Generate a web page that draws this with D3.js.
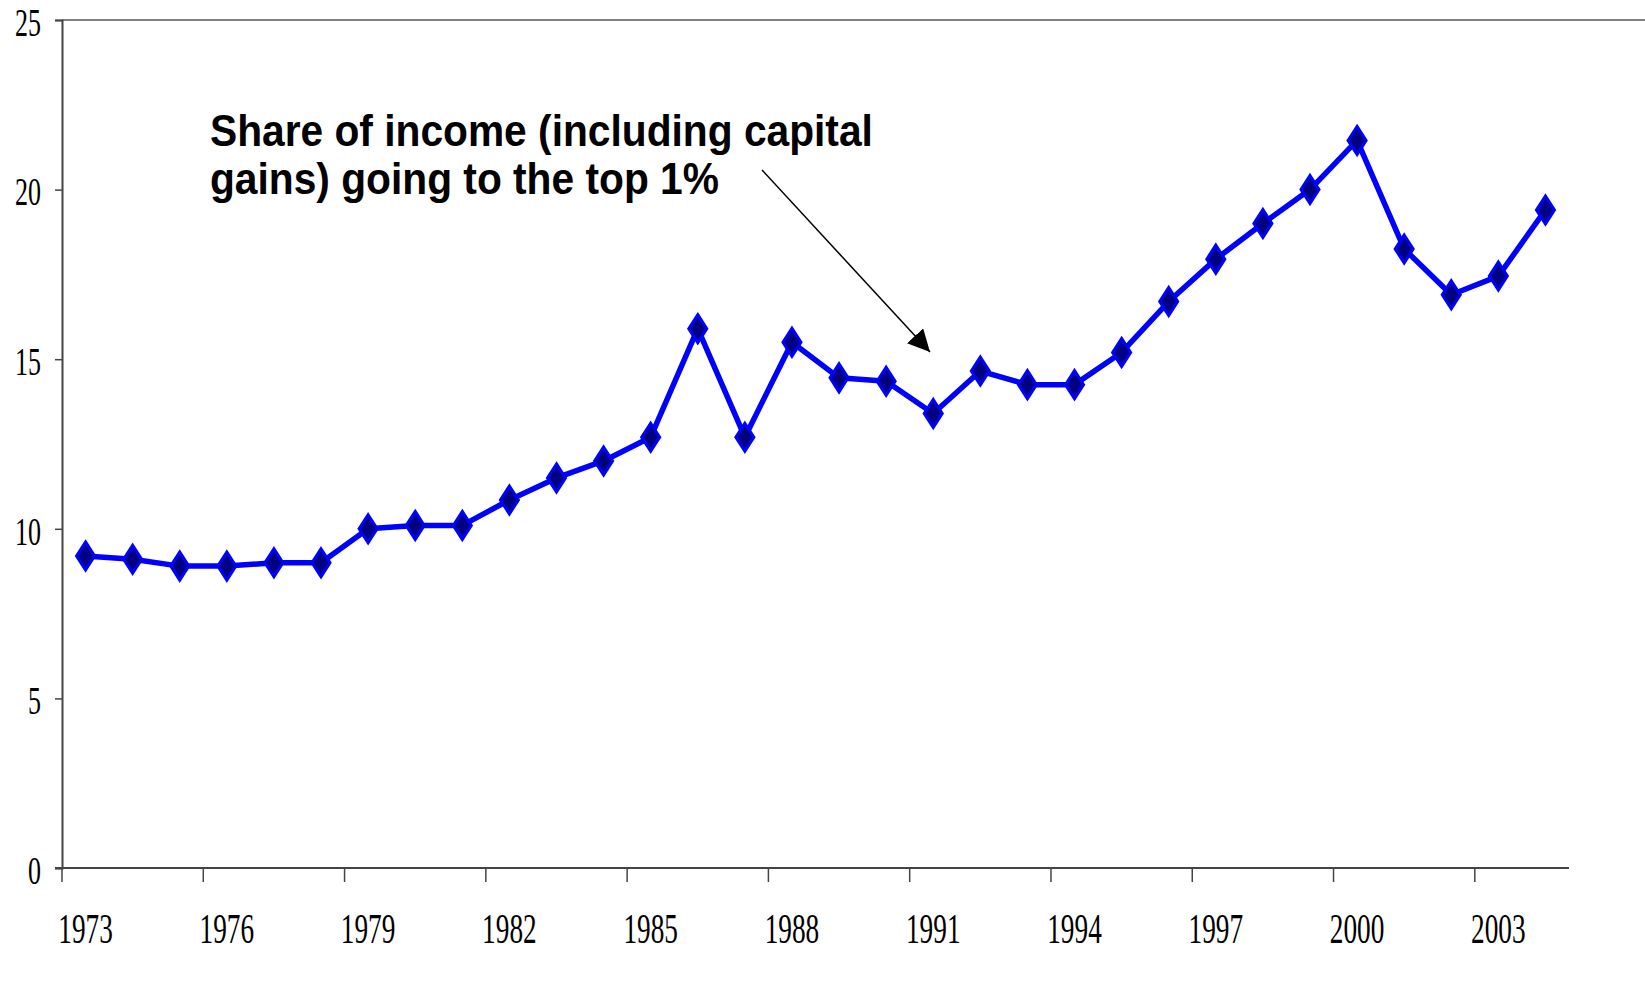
<!DOCTYPE html>
<html><head><meta charset="utf-8">
<script src="https://cdn.jsdelivr.net/npm/d3@7"></script>
<style>html,body{margin:0;padding:0;background:#fff;}svg{display:block;}</style>
</head><body>
<svg id="c" width="1645" height="996"></svg>
<script>
const years = d3.range(1973, 2005).map(String);
const shares = [9.2, 9.1, 8.9, 8.9, 9.0, 9.0, 10.0, 10.1, 10.1, 10.85, 11.5, 12.0, 12.7, 15.9, 12.7, 15.5,
  14.45, 14.35, 13.4, 14.65, 14.25, 14.25, 15.2, 16.7, 17.95, 19.0, 20.0, 21.45, 18.25, 16.9, 17.45, 19.4];
const yTicks = [0, 5, 10, 15, 20, 25];
const xLabelYears = ["1973","1976","1979","1982","1985","1988","1991","1994","1997","2000","2003"];
const annotationLines = ["Share of income (including capital", "gains) going to the top 1%"];

const svg = d3.select("#c");
const L = 62, R = 1569, T = 20, B = 868;
const x = d3.scaleBand().domain(years).range([L, R]).padding(0);
const y = d3.scaleLinear().domain([0, 25]).range([B, T]);

// top frame line
svg.append("line").attr("x1", L).attr("x2", 1645).attr("y1", T).attr("y2", T)
  .attr("stroke", "#808080").attr("stroke-width", 2);

// Y axis
const yAxis = svg.append("g").attr("transform", `translate(${L},0)`)
  .call(d3.axisLeft(y).tickValues(yTicks).tickSize(7).tickPadding(14).tickFormat(d3.format("d")));
yAxis.select(".domain").attr("stroke", "#444").attr("stroke-width", 2);
yAxis.selectAll(".tick line").attr("stroke", "#444").attr("stroke-width", 1.5);
yAxis.selectAll(".tick text").attr("font-family", "Liberation Serif").attr("font-size", 40)
  .attr("fill", "#000").attr("dy", "0.38em")
  .attr("transform", function(){ const xx = +d3.select(this).attr("x"); return `translate(${xx*0.35},0) scale(0.65,1)`; });

// X axis (ticks at boundaries every 3 years, labels at band centers)
const xg = svg.append("g").attr("transform", `translate(0,${B})`);
xg.append("line").attr("x1", L - 7).attr("x2", R).attr("stroke", "#444").attr("stroke-width", 2);
xg.selectAll("line.tk").data(xLabelYears).join("line").attr("class", "tk")
  .attr("x1", d => x(d)).attr("x2", d => x(d)).attr("y1", 0).attr("y2", 14)
  .attr("stroke", "#444").attr("stroke-width", 1.5);
xg.selectAll("text").data(xLabelYears).join("text")
  .attr("transform", d => `translate(${x(d) + x.bandwidth()/2},75) scale(0.65,1)`)
  .attr("text-anchor", "middle").attr("font-family", "Liberation Serif").attr("font-size", 42)
  .attr("fill", "#000").text(d => d);

// line
const pts = years.map((yr, i) => [x(yr) + x.bandwidth()/2, y(shares[i])]);
svg.append("path").datum(pts).attr("d", d3.line()).attr("fill", "none")
  .attr("stroke", "#0000ff").attr("stroke-width", 5.5).attr("stroke-linejoin", "round");

// diamond markers
svg.selectAll("path.mk").data(pts).join("path").attr("class", "mk")
  .attr("d", d => `M${d[0]},${d[1]-14}L${d[0]+9},${d[1]}L${d[0]},${d[1]+14}L${d[0]-9},${d[1]}Z`)
  .attr("fill", "#000080").attr("stroke", "#0000ff").attr("stroke-width", 3);

// annotation
const ann = svg.append("text").attr("font-family", "Liberation Sans").attr("font-weight", "bold")
  .attr("font-size", 45).attr("fill", "#000")
  .attr("transform", "translate(210,0) scale(0.905,1)");
annotationLines.forEach((t, i) => ann.append("tspan").attr("x", 0).attr("y", 146 + i*48).text(t));

// arrow
svg.append("defs").append("marker").attr("id", "ah").attr("viewBox", "0 0 10 10")
  .attr("refX", 10).attr("refY", 5).attr("markerWidth", 22).attr("markerHeight", 22)
  .attr("markerUnits", "userSpaceOnUse").attr("orient", "auto")
  .append("path").attr("d", "M0,0L10,5L0,10Z").attr("fill", "#000");
svg.append("line").attr("x1", 762).attr("y1", 170).attr("x2", 930).attr("y2", 352)
  .attr("stroke", "#000").attr("stroke-width", 1.5).attr("marker-end", "url(#ah)");
</script>
</body></html>
